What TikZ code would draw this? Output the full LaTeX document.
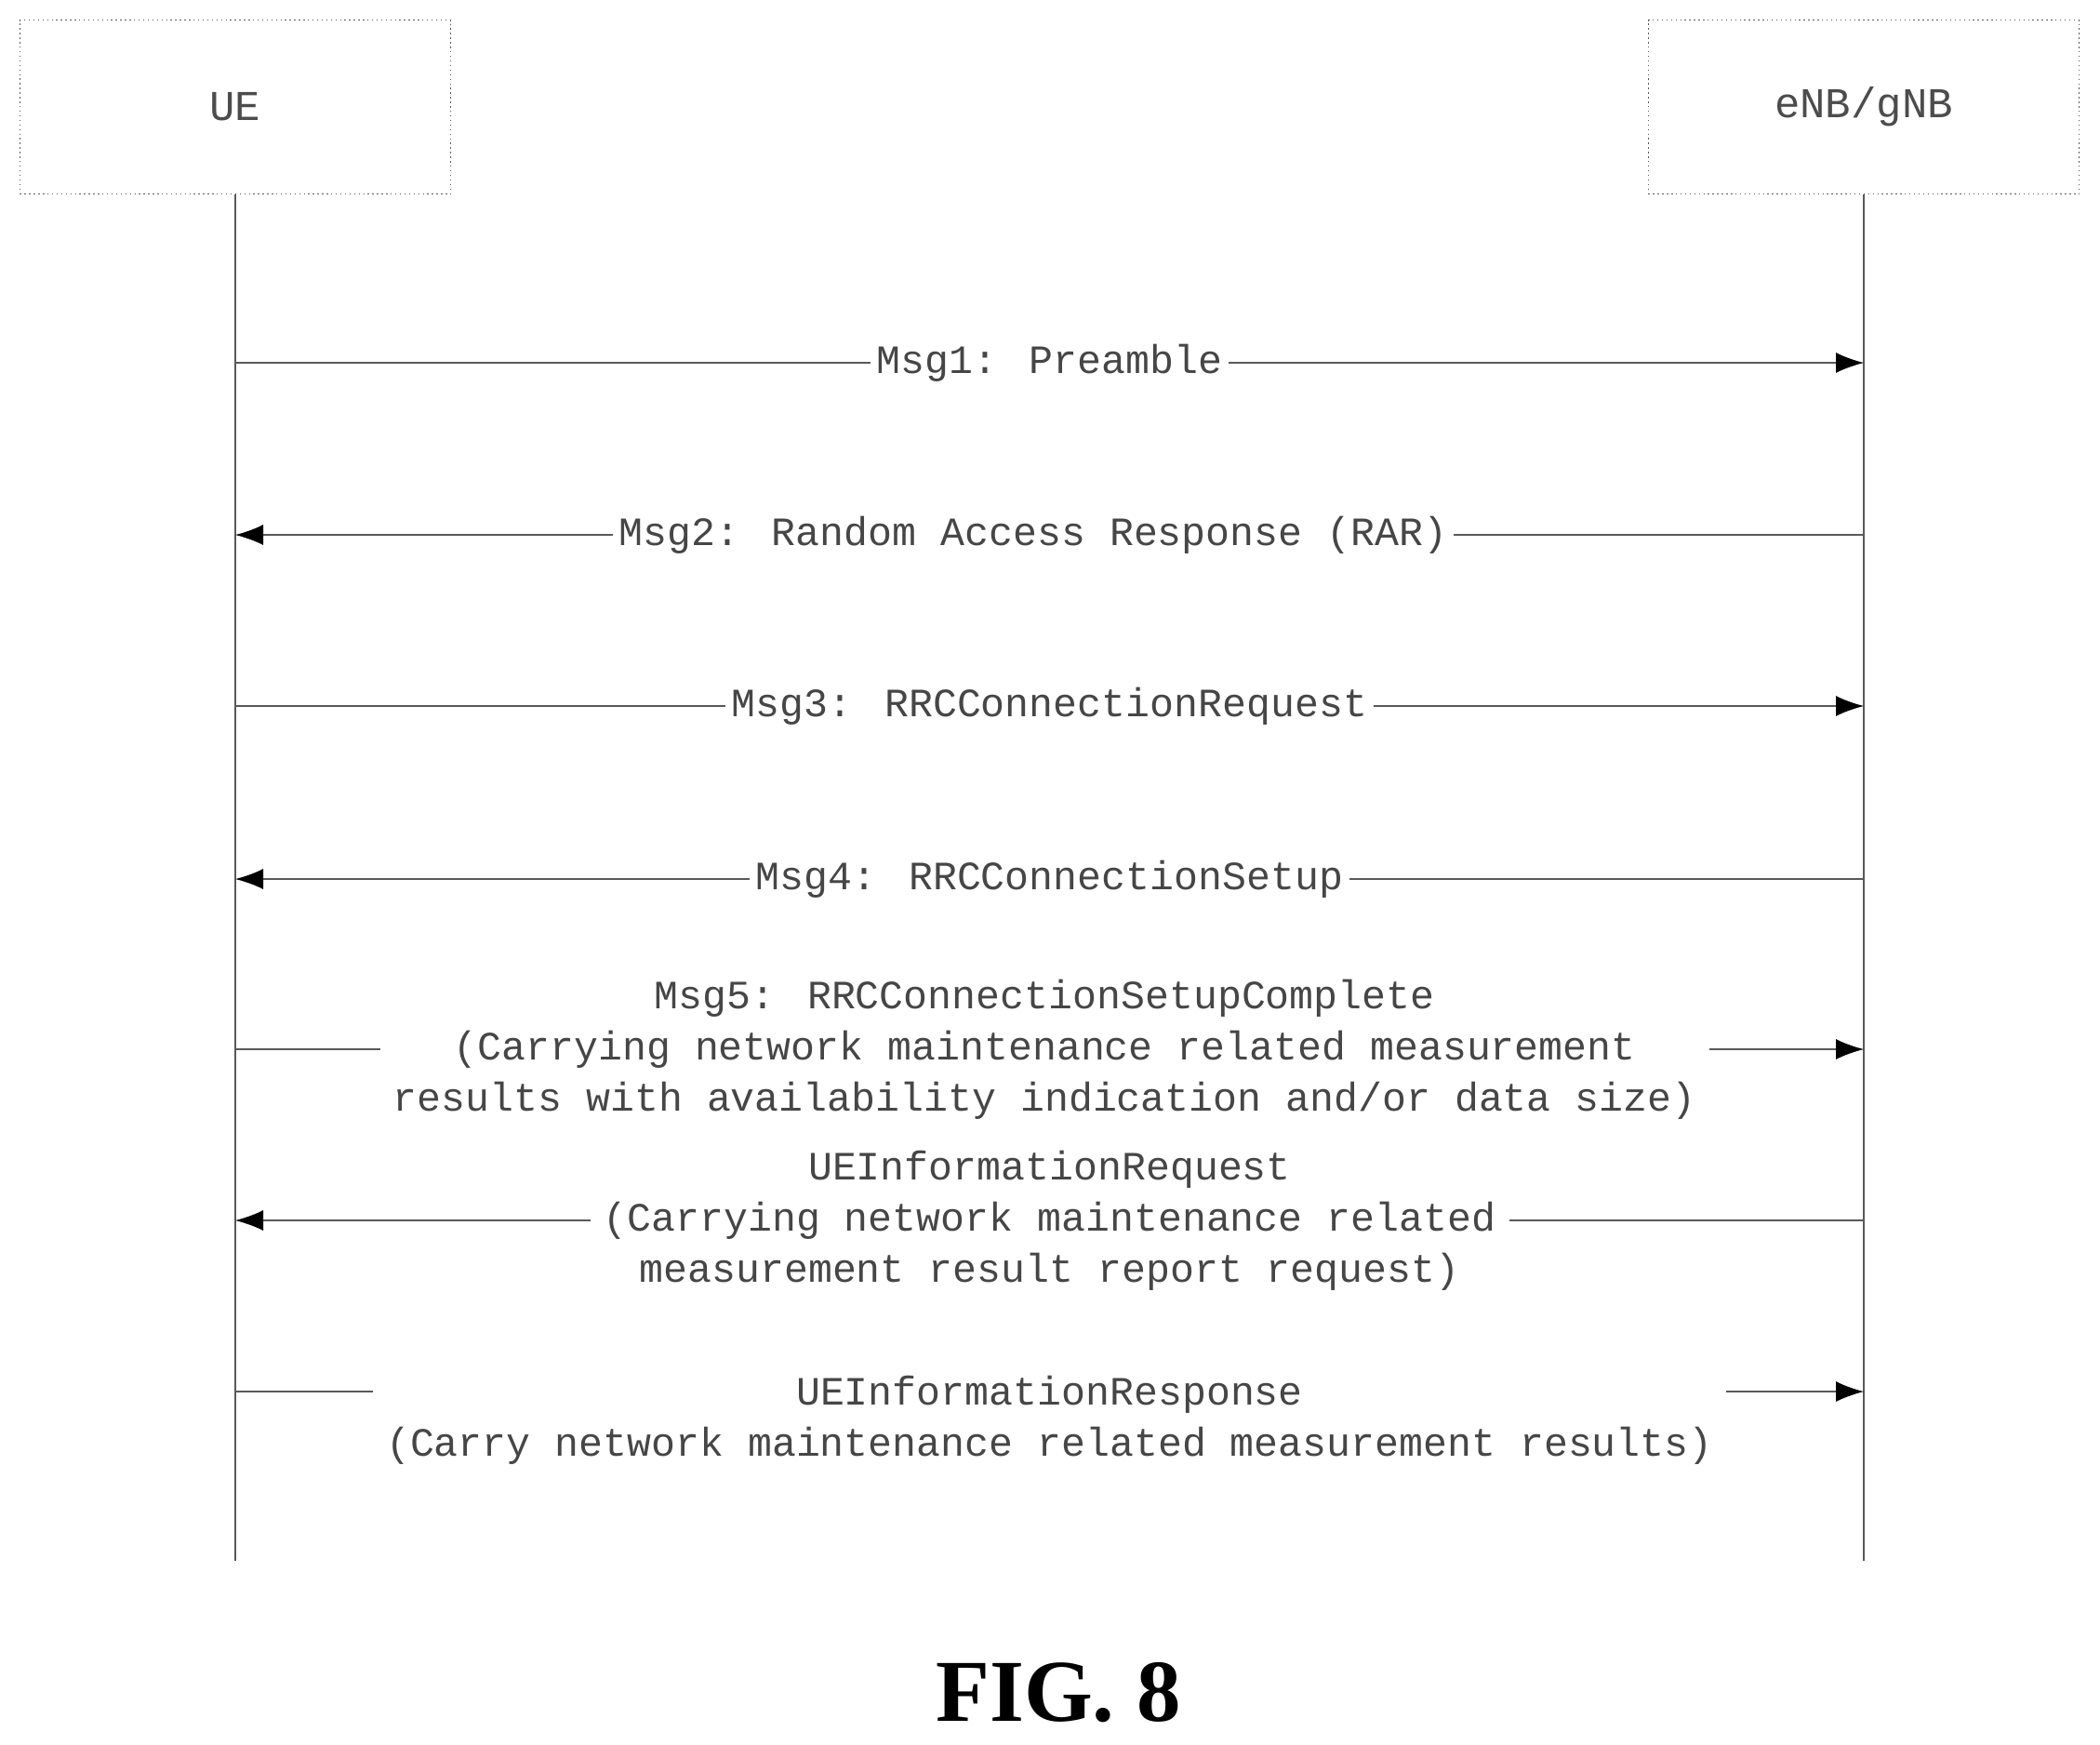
\documentclass[tikz,border=0pt]{standalone}
\usepackage{fontspec}
\setmainfont{Liberation Serif}
\newfontfamily\msgfont{Liberation Mono}
\usetikzlibrary{arrows.meta}
\begin{document}
\begin{tikzpicture}[y=1.0cm,x=1.0cm,
    entity/.style={draw=gray!70!black,densely dotted,minimum width=4.63cm,minimum height=1.87cm,font=\msgfont\fontsize{13}{15}\selectfont,text=gray!60!black},
    life/.style={gray!70!black,thin},
    msg/.style={gray!70!black,thin,-{Latex[length=0.3cm,width=0.22cm,black]}},
    lbl/.style={fill=white,align=center,inner sep=2pt,font=\msgfont\fontsize{12.3}{15.6}\selectfont,text=gray!55!black}]
    \useasboundingbox (0,0) rectangle (22.58,-18.75);

    \node[entity] (ue) at (2.53,-1.15) {UE};
    \node[entity] (enb) at (20.04,-1.15) {eNB/gNB};
    \coordinate (ueend) at (2.53,-16.78);
    \coordinate (enbend) at (20.04,-16.78);
    \draw[life] (ue.south) -- (ueend);
    \draw[life] (enb.south) -- (enbend);

    % messages
    \coordinate (u1) at (2.53,-3.90);  \coordinate (e1) at (20.04,-3.90);
    \coordinate (u2) at (2.53,-5.75);  \coordinate (e2) at (20.04,-5.75);
    \coordinate (u3) at (2.53,-7.59);  \coordinate (e3) at (20.04,-7.59);
    \coordinate (u4) at (2.53,-9.45);  \coordinate (e4) at (20.04,-9.45);
    \coordinate (u5) at (2.53,-11.28); \coordinate (e5) at (20.04,-11.28);
    \coordinate (u6) at (2.53,-13.12); \coordinate (e6) at (20.04,-13.12);
    \coordinate (u7) at (2.53,-14.96); \coordinate (e7) at (20.04,-14.96);

    \draw[msg] (u1) -- (e1) node[lbl,pos=0.50] (m1) {Msg1: Preamble};
    \draw[msg] (e2) -- (u2) node[lbl,pos=0.51] (m2) {Msg2: Random Access Response (RAR)};
    \draw[msg] (u3) -- (e3) node[lbl,pos=0.50] (m3) {Msg3: RRCConnectionRequest};
    \draw[msg] (e4) -- (u4) node[lbl,pos=0.50] (m4) {Msg4: RRCConnectionSetup};
    \draw[msg] (u5) -- (e5) node[lbl,pos=0.497,inner sep=4pt] (m5) {Msg5: RRCConnectionSetupComplete\\(Carrying network maintenance related measurement\\results with availability indication and/or data size)};
    \draw[msg] (e6) -- (u6) node[lbl,pos=0.50,inner sep=4pt] (m6) {UEInformationRequest\\(Carrying network maintenance related\\measurement result report request)};
    \draw[msg] (u7) -- (e7) node[lbl,pos=0.50,inner sep=4pt,yshift=-0.31cm] (m7) {UEInformationResponse\\(Carry network maintenance related measurement results)};

    \node[font=\bfseries\fontsize{27}{32}\selectfont] (fig) at (11.38,-18.2) {FIG. 8};
\end{tikzpicture}
\end{document}
